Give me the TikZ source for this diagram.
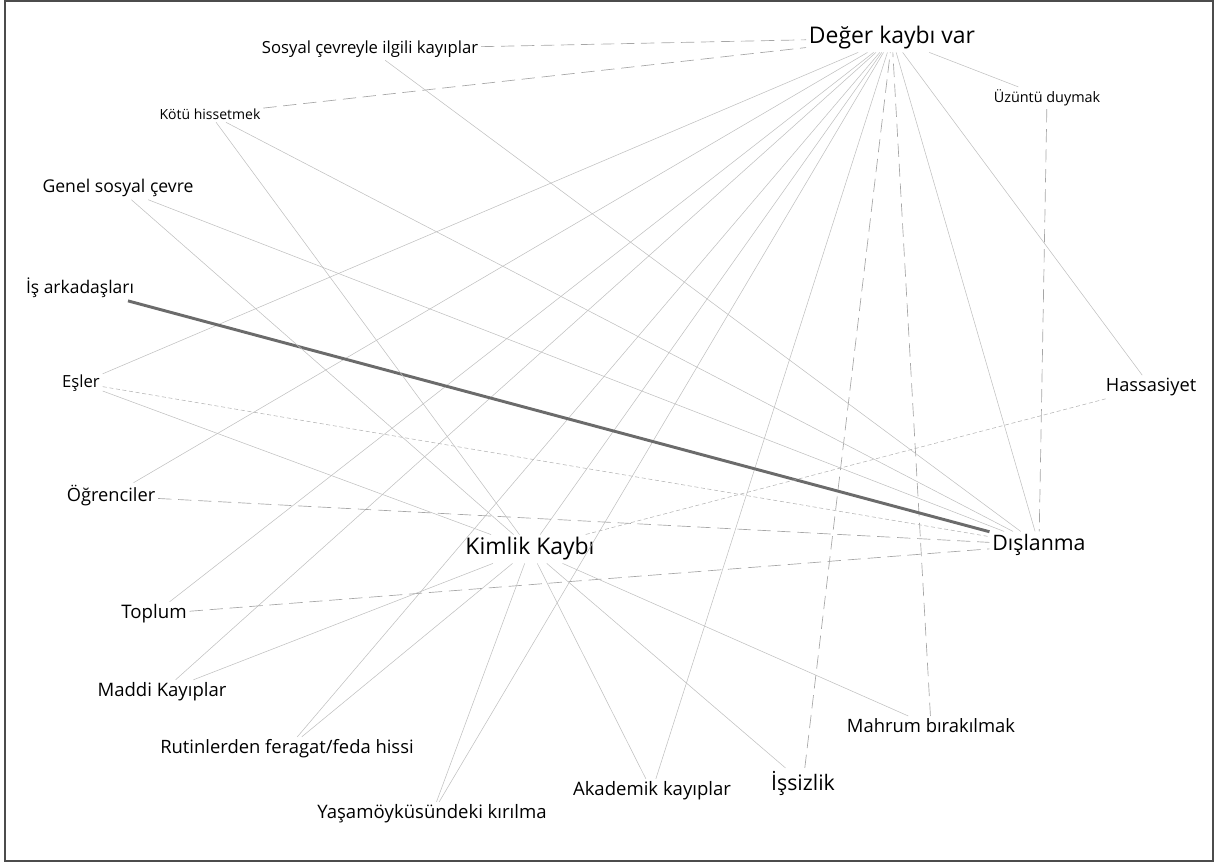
\documentclass[tikz,border=0pt]{standalone}
\usepackage{fontspec}
\setmainfont{Open Sans}

\begin{document}
\begin{tikzpicture}[x=0.75pt,y=-0.75pt,
  code/.style={inner sep=2pt,font=\fontsize{#1}{#1}\selectfont},
  tie/.style={draw=gray!50,line width=0.4pt},
  tiedash/.style={draw=gray!70,line width=0.5pt,dash pattern=on 10pt off 5pt},
  tiefine/.style={draw=gray!60,line width=0.4pt,dash pattern=on 3pt off 2pt},
  tiestrong/.style={draw=black!58,line width=2.2pt}]

  \useasboundingbox (0,0) rectangle (1219,863);
  \draw[black!70,line width=1pt] (5,1) rectangle (1213,861);

  \node[code=17.2] (wert) at (892,38) {Değer kaybı var};
  \node[code=12.5] (sozial) at (370,49) {Sosyal çevreyle ilgili kayıplar};
  \node[code=10.5] (kotu) at (210,114) {Kötü hissetmek};
  \node[code=10.8] (uzuntu) at (1047,98) {Üzüntü duymak};
  \node[code=13.2] (genel) at (118,188) {Genel sosyal çevre};
  \node[code=13.1] (isark) at (80,288) {İş arkadaşları};
  \node[code=12.5] (esler) at (81,383) {Eşler};
  \node[code=13.7] (hassas) at (1151,387) {Hassasiyet};
  \node[code=13.7] (ogrenci) at (111,496) {Öğrenciler};
  \node[code=17.2] (kimlik) at (530,549) {Kimlik Kaybı};
  \node[code=16] (dislanma) at (1039,545) {Dışlanma};
  \node[code=14] (toplum) at (154,614) {Toplum};
  \node[code=13.9] (maddi) at (162,692) {Maddi Kayıplar};
  \node[code=13.8] (rutin) at (287,749) {Rutinlerden feragat/feda hissi};
  \node[code=13.8] (mahrum) at (931,726) {Mahrum bırakılmak};
  \node[code=13.9] (akademik) at (652,791) {Akademik kayıplar};
  \node[code=16] (issizlik) at (803,783) {İşsizlik};
  \node[code=13.9] (yasam) at (432,814) {Yaşamöyküsündeki kırılma};

  % Değer kaybı var
  \path (uzuntu) edge[tie] (wert)
        (esler) edge[tie] (wert)
        (ogrenci) edge[tie] (wert)
        (toplum) edge[tie] (wert)
        (maddi) edge[tie] (wert)
        (rutin) edge[tie] (wert)
        (yasam) edge[tie] (wert)
        (kimlik) edge[tie] (wert)
        (akademik) edge[tie] (wert)
        (dislanma) edge[tie] (wert)
        (hassas) edge[tie] (wert);
  \path (sozial) edge[tiedash] (wert)
        (kotu) edge[tiedash] (wert)
        (issizlik) edge[tiedash] (wert)
        (mahrum) edge[tiedash] (wert);

  % Dışlanma
  \path (sozial) edge[tie] (dislanma)
        (kotu) edge[tie] (dislanma)
        (genel) edge[tie] (dislanma);
  \path (ogrenci) edge[tiedash] (dislanma)
        (toplum) edge[tiedash] (dislanma)
        (uzuntu) edge[tiedash] (dislanma)
        (esler) edge[tiefine] (dislanma);
  \draw[tiestrong] (isark) -- (dislanma);

  % Kimlik Kaybı
  \path (kotu) edge[tie] (kimlik)
        (genel) edge[tie] (kimlik)
        (esler) edge[tie] (kimlik)
        (maddi) edge[tie] (kimlik)
        (rutin) edge[tie] (kimlik)
        (yasam) edge[tie] (kimlik)
        (akademik) edge[tie] (kimlik)
        (issizlik) edge[tie] (kimlik)
        (mahrum) edge[tie] (kimlik);
  \path (hassas) edge[tiefine] (kimlik);

\end{tikzpicture}
\end{document}
